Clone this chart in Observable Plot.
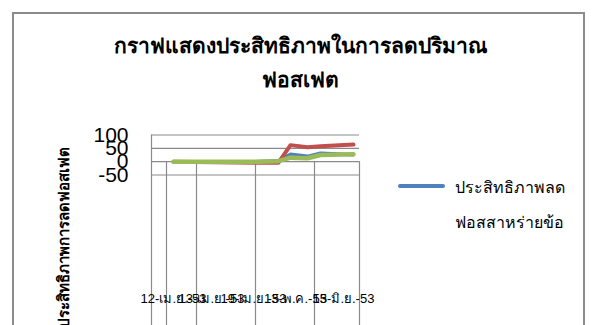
<!DOCTYPE html>
<html>
<head>
<meta charset="utf-8">
<script src="https://cdn.jsdelivr.net/npm/d3@7"></script>
<script src="https://cdn.jsdelivr.net/npm/@observablehq/plot@0.6"></script>
<style>
  html, body { margin: 0; padding: 0; background: #fff; }
  #wrap { position: relative; width: 601px; height: 325px; overflow: hidden; font-family: "Liberation Sans", "DejaVu Sans", "Noto Sans", sans-serif; }
  #frame { position: absolute; left: 12px; top: 12px; width: 573px; height: 400px; border: 2px solid #8c8c8c; box-sizing: border-box; }
  .title { position: absolute; left: 0; width: 601px; text-align: center; font-weight: bold; font-size: 21px; color: #000; }
  #ytitle { position: absolute; left: 64px; top: 237px; transform: translate(-50%, -50%) rotate(-90deg); white-space: nowrap; font-weight: bold; font-size: 15px; }
  .leg { position: absolute; left: 455px; font-size: 16px; white-space: nowrap; }
  #legline { position: absolute; left: 398px; top: 184px; width: 47px; height: 4px; background: #4F81BD; border-radius: 2px; }
  #chart { position: absolute; left: 0; top: 0; }
</style>
</head>
<body>
<div id="wrap">
  <div id="frame"></div>
  <div class="title" style="top:29px">กราฟแสดงประสิทธิภาพในการลดปริมาณ</div>
  <div class="title" style="top:63px">ฟอสเฟต</div>
  <div id="ytitle">ประสิทธิภาพการลดฟอสเฟต</div>
  <div id="legline"></div>
  <div class="leg" style="top:175px">ประสิทธิภาพลด</div>
  <div class="leg" style="top:210px">ฟอสสาหร่ายข้อ</div>
  <div id="chart"></div>
</div>
<script>
// day offsets along the date axis
const days = [5.5, 26, 31.75, 34.75, 39, 42.25, 50.5];
const blueVals = [0, 0, 3, 28, 20, 32, 26];
const redVals = [0, -4, -4, 62, 54, 58, 64];
const greenVals = [0, 0, 2, 15, 13, 25, 28];
const seriesNames = ["ประสิทธิภาพลดฟอสสาหร่ายข้อ", "ชุดที่ 2", "ชุดที่ 3"];
const yTicks = [100, 50, 0, -50];
const xGrid = [0, 3.75, 11.25, 26, 40.75, 52];
const xLabelPos = [5.5, 15, 25.5, 36, 48];
const xLabels = ["12-เม.ย.-53", "13-เม.ย.-53", "19-เม.ย.-53", "13-พ.ค.-53", "15-มิ.ย.-53"];

const rows = [];
[blueVals, redVals, greenVals].forEach((vals, s) => {
  vals.forEach((v, i) => rows.push({series: seriesNames[s], day: days[i], value: v}));
});
const colors = ["#4F81BD", "#C0504D", "#9BBB59"];

const chart = Plot.plot({
  width: 601,
  height: 325,
  marginLeft: 151,
  marginRight: 242,
  marginTop: 0,
  marginBottom: 0,
  style: {background: "transparent", fontFamily: "Liberation Sans, DejaVu Sans, sans-serif"},
  x: {domain: [0, 52], axis: null},
  y: {domain: [-50, 100], range: [174.5, 134.5], axis: null},
  color: {domain: seriesNames, range: colors},
  marks: [
    Plot.ruleY(yTicks, {stroke: "#8a8a8a", strokeWidth: 1.2}),
    Plot.ruleX(xGrid, {y1: 0, y2: -650, stroke: "#8a8a8a", strokeWidth: 1.2}),
    Plot.ruleX([0], {y1: 100, y2: 0, stroke: "#8a8a8a", strokeWidth: 1.2}),
    Plot.lineY(rows.filter(d => d.series === seriesNames[0]), {x: "day", y: "value", stroke: "series", strokeWidth: 3.5}),
    Plot.lineY(rows.filter(d => d.series === seriesNames[1]), {x: "day", y: "value", stroke: "series", strokeWidth: 4}),
    Plot.lineY(rows.filter(d => d.series === seriesNames[2]), {x: "day", y: "value", stroke: "series", strokeWidth: 4.5}),
    Plot.text(yTicks, {x: 0, y: d => d, text: d => String(d), textAnchor: "end", dx: -23, fontSize: 21, fill: "#000"}),
    Plot.text(xLabels, {x: (d, i) => xLabelPos[i], y: -515, text: d => d, textAnchor: "middle", fontSize: 13, fill: "#000"})
  ]
});
document.getElementById("chart").appendChild(chart);
</script>
</body>
</html>
